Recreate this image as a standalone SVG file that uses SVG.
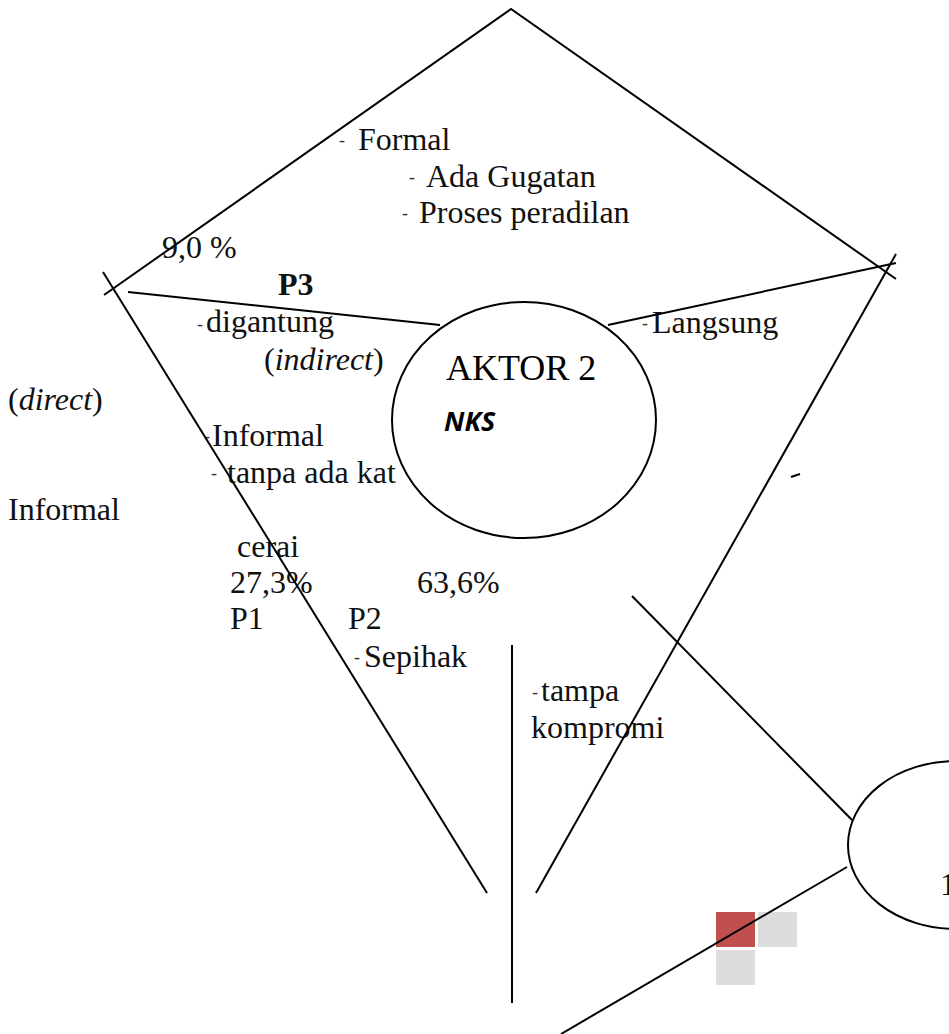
<svg xmlns="http://www.w3.org/2000/svg" width="949" height="1034" viewBox="0 0 949 1034">
  <style>
    .ln { stroke: #000; stroke-width: 2; fill: none; stroke-linecap: butt; }
    .node { fill: #fff; stroke: #000; stroke-width: 2; }
    .t { font-family: "Liberation Serif", "DejaVu Serif", serif; font-size: 32px; fill: #111; }
    .it { font-style: italic; }
    .b { font-weight: bold; }
    .dash { font-family: "Liberation Serif", serif; font-size: 18px; fill: #333; }
    .big { font-family: "Liberation Serif", serif; font-size: 36px; fill: #000; }
    .nks { font-family: "Open Sans", "DejaVu Sans", sans-serif; font-size: 27px; font-weight: bold; font-style: italic; fill: #000; }
  </style>

  <rect width="949" height="1034" fill="#fff"/>

  <!-- free labels -->
  <g id="labels">
    <text class="dash" x="339" y="146">-</text>
    <text class="t" x="358" y="150">Formal</text>
    <text class="dash" x="409" y="183">-</text>
    <text class="t" x="426" y="187">Ada Gugatan</text>
    <text class="dash" x="402" y="219">-</text>
    <text class="t" x="419" y="223">Proses peradilan</text>
    <text class="t" x="162" y="258" font-size="30">9,0 %</text>
    <text class="t b" x="278" y="295" font-size="29">P3</text>
    <text class="dash" x="197" y="330">-</text>
    <text class="t" x="206" y="332">digantung</text>
    <text class="t" x="264" y="370" font-size="28">(<tspan class="it">indirect</tspan>)</text>
    <text class="t" x="8" y="410" font-size="28">(<tspan class="it">direct</tspan>)</text>
    <text class="dash" x="204" y="442">-</text>
    <text class="t" x="212" y="446">Informal</text>
    <text class="dash" x="211" y="479">-</text>
    <text class="t" x="227" y="483">tanpa ada kat</text>
    <text class="t" x="8" y="520">Informal</text>
    <text class="t" x="237" y="557">cerai</text>
    <text class="t" x="230" y="593" font-size="30">27,3%</text>
    <text class="t" x="417" y="593" font-size="30">63,6%</text>
    <text class="t" x="230" y="629">P1</text>
    <text class="t" x="348" y="629">P2</text>
    <text class="dash" x="354" y="663">-</text>
    <text class="t" x="364" y="667">Sepihak</text>
    <text class="dash" x="532" y="698">-</text>
    <text class="t" x="541" y="701">tampa</text>
    <text class="t" x="531" y="738">kompromi</text>
    <text class="dash" x="642" y="329">-</text>
    <text class="t" x="652" y="333">Langsung</text>
    <line class="ln" x1="791" y1="477" x2="800" y2="474" stroke-width="1"/>
  </g>

  <!-- decorative squares -->
  <g id="squares">
    <rect x="716" y="912" width="39" height="35" fill="#C0504D"/>
    <rect x="758" y="912" width="39" height="35" fill="#DDDDDD"/>
    <rect x="716" y="950" width="39" height="35" fill="#DDDDDD"/>
  </g>

  <!-- connectors -->
  <g id="connectors">
    <polyline class="ln" points="104,295 511,9 896,279"/>
    <line class="ln" x1="103" y1="272" x2="487" y2="893"/>
    <line class="ln" x1="128" y1="292" x2="440" y2="325"/>
    <line class="ln" x1="608" y1="325" x2="896" y2="263"/>
    <line class="ln" x1="536" y1="893" x2="896" y2="254"/>
    <line class="ln" x1="512" y1="645" x2="512" y2="1003"/>
    <line class="ln" x1="632" y1="596" x2="852" y2="820"/>
    <line class="ln" x1="847" y1="867" x2="561" y2="1034"/>
  </g>

  <!-- actor node 2 -->
  <g id="aktor2">
    <ellipse class="node" cx="524" cy="420" rx="132" ry="118"/>
    <text class="big" x="446" y="380">AKTOR 2</text>
    <text class="nks" x="444" y="431">NKS</text>
  </g>

  <!-- actor node 1 (right edge) -->
  <g id="aktor1">
    <ellipse class="node" cx="956" cy="845" rx="108" ry="84"/>
    <text class="t" x="940" y="895">1</text>
  </g>
</svg>
